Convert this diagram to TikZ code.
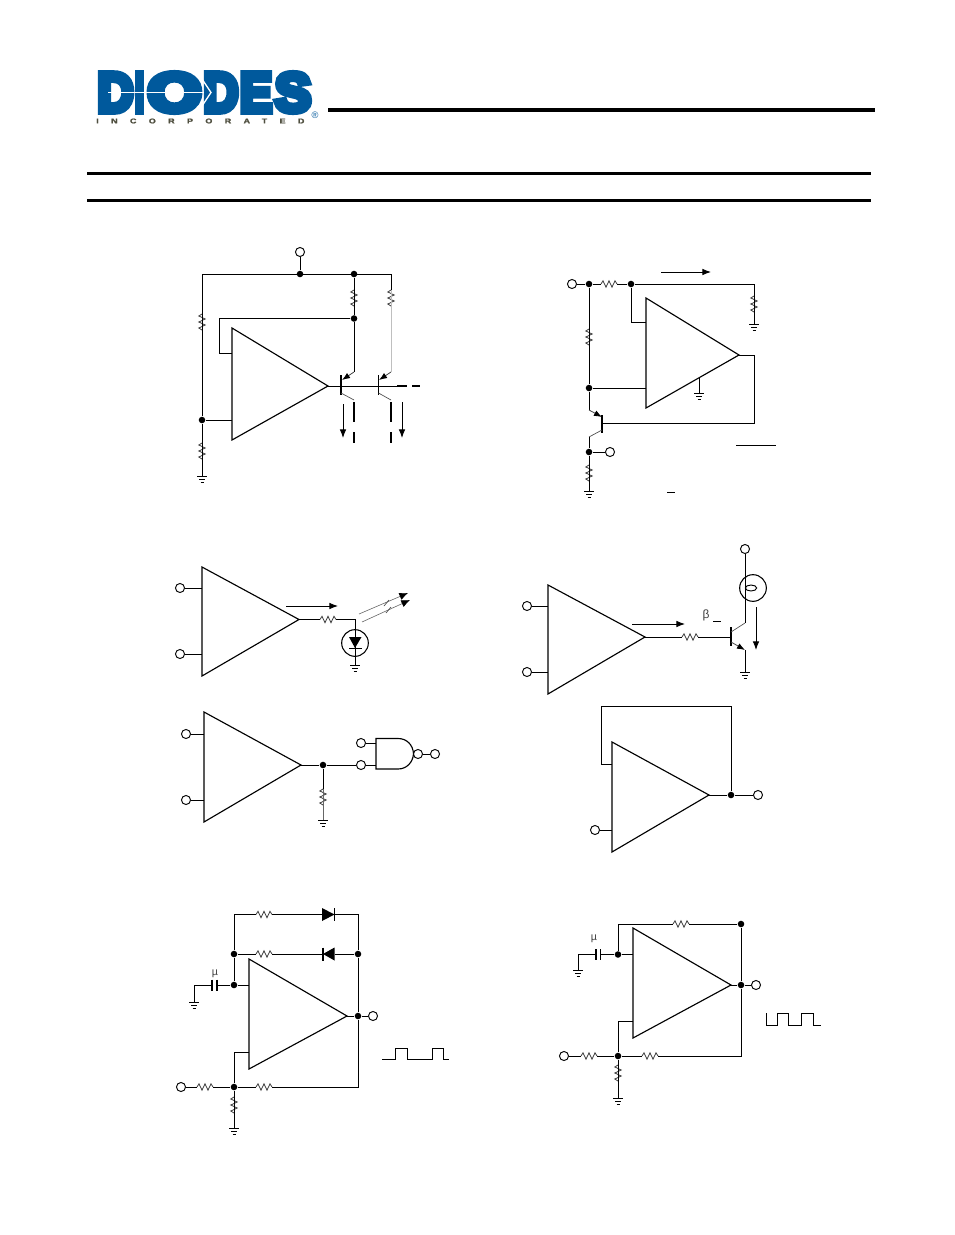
\documentclass[tikz,border=0pt]{standalone}
\usepackage{fontspec}
\setmainfont{Liberation Sans}
\newfontfamily\logofont[BoldFeatures={FakeBold=12}]{Liberation Sans}
\newfontfamily\incfont[BoldFeatures={FakeBold=2},FakeStretch=1.3,LetterSpace=178]{Liberation Sans}
\usetikzlibrary{arrows.meta,calc,shapes.geometric}
\definecolor{diodesblue}{HTML}{00599C}
\definecolor{logogray}{HTML}{4F4F3F}
\tikzset{
  wire/.style={line width=0.75pt,line join=miter},
  dimw/.style={line width=0.6pt,black!75},
  amp/.style={line width=0.85pt,line join=miter},
  dotn/.style={circle,fill=black,inner sep=0pt,minimum size=4.9pt},
  term/.style={circle,draw=black,fill=white,line width=0.7pt,inner sep=0pt,minimum size=6.8pt},
  arr/.style={line width=0.75pt,-{Latex[length=6.5pt,width=5pt]}},
  emit/.style={line width=0.6pt,black!75,-{Latex[length=6pt,width=4.5pt,black]}},
  ray/.style={line width=0.45pt,black!60,-{Latex[length=6.5pt,width=5.5pt,black]}},
  thin/.style={line width=0.5pt,black!70},
  thickdash/.style={line width=1.9pt},
  lab/.style={inner sep=0pt,text=black!75,font=\fontsize{8}{9}\selectfont},
  bar/.style={line width=0.8pt},
  logotext/.style={inner sep=0pt,text=diodesblue},
}
% logo letter: name, centre x, width in pt, letter
\newcommand\LG[4]{\node[logotext] (#1) at (#2,92.5) {\resizebox{#3pt}{28.5pt}{\logofont\bfseries #4}};}
% resistor: name, x, y, rotation
\newcommand\RX[4]{\begin{scope}[shift={(#2,#3)},rotate=#4]
  \coordinate (#1-a) at (-8,0); \coordinate (#1-b) at (8,0);
  \draw[dimw] (-8,0)--(-6,-3.2)--(-3,3.2)--(0,-3.2)--(3,3.2)--(6,-3.2)--(8,0);
\end{scope}}
% ground: name, x, y
\newcommand\GX[3]{\coordinate (#1) at (#2,#3);
  \draw[line width=0.6pt] (#2-5,#3)--(#2+5,#3) (#2-3,#3+3)--(#2+3,#3+3);
  \draw[line width=0.5pt] (#2-1.5,#3+6)--(#2+1.5,#3+6);}
% amplifier: name, xleft, ytop, ybottom, xtip, ytip
\newcommand\AX[6]{\coordinate (#1-t) at (#2,#3); \coordinate (#1-b) at (#2,#4);
  \coordinate (#1-o) at (#5,#6);
  \draw[amp] (#1-t)--(#1-o)--(#1-b)--cycle;}
\begin{document}
\begin{tikzpicture}[x=0.75pt,y=-0.75pt]
\useasboundingbox (0,0) rectangle (954,1235);
\fill[white] (0,0) rectangle (954,1235);
% ---------- header ----------
\LG{lgd}{115.5}{27}{D}
\LG{lgi}{139.5}{7}{I}
\LG{lgo}{174.5}{40}{O}
\LG{lge}{256}{24}{E}
\LG{lgs}{293}{27}{S}
\LG{lgdd}{221}{26}{D}
\coordinate (sl1) at (108,92.5); \coordinate (sl2) at (204,92.5);
\draw[white,line width=0.9pt] (sl1)--(sl2);
\coordinate (ch1) at (202,79); \coordinate (ch2) at (211,92.5); \coordinate (ch3) at (202,106);
\draw[white,line width=1pt] (ch1)--(ch2)--(ch3);
\node[inner sep=0pt,anchor=west,text=logogray,font=\fontsize{5.2}{5.2}\selectfont] (inc) at (96,121)
  {\incfont\bfseries INCORPORATED};
\node[inner sep=0pt,text=diodesblue,font=\fontsize{7}{7}\selectfont] (reg) at (315,115) {®};
\coordinate (h1) at (328,110); \coordinate (h2) at (875,110);
\draw[line width=3.6pt] (h1)--(h2);
\coordinate (l1a) at (87,173.5); \coordinate (l1b) at (871,173.5);
\coordinate (l2a) at (87,200.5); \coordinate (l2b) at (871,200.5);
\draw[line width=2.1pt] (l1a)--(l1b) (l2a)--(l2b);

% ---------- circuit 1 ----------
\AX{a}{232}{328}{440}{328}{386}
\node[term] (avcc) at (300,252) {};
\node[dotn] (at1) at (300,274) {};
\node[dotn] (at2) at (354,274) {};
\coordinate (atl) at (202,274); \coordinate (atr) at (391,274);
\RX{ar1}{202}{322}{90}
\RX{ar2}{202}{451}{90}
\RX{ar3}{354}{298}{90}
\RX{ar4}{391}{298}{90}
\node[dotn] (ad1) at (202,420) {};
\node[dotn] (ad2) at (354,318.5) {};
\GX{ag}{202}{476}
\draw[wire] (avcc)--(at1) (atl)--(atr) (atl)--(ar1-a) (ar1-b)--(ad1)--(ar2-a) (ar2-b)--(ag);
\draw[wire] (at2)--(ar3-a) (ar3-b)--(ad2) (atr)--(ar4-a);
\coordinate (ain1) at (232,353); \coordinate (ain2) at (232,420);
\draw[wire] (ad1)--(ain2);
\draw[wire] (ad2)--(219,318.5)--(219,353)--(ain1);
\coordinate (aq1e) at (354,372); \coordinate (aq2e) at (391,372);
\draw[wire] (ad2)--(aq1e);
\draw[wire,black!25] (ar4-b)--(aq2e);
\coordinate (aq1be) at (342,380); \coordinate (aq2be) at (379,380);
\draw[emit] (aq1e)--(aq1be);
\draw[emit] (aq2e)--(aq2be);
\coordinate (abase) at (397,386);
\draw[wire] (a-o)--(abase);
\coordinate (aq1a) at (341,375); \coordinate (aq1b) at (341,395);
\coordinate (aq2a) at (378.5,375); \coordinate (aq2b) at (378.5,395);
\draw[bar] (aq1a)--(aq1b) (aq2a)--(aq2b);
\coordinate (aq1c) at (354,400); \coordinate (aq2c) at (391,400);
\draw[thin] (341,393)--(aq1c) (378.5,393)--(aq2c);
\draw[thickdash] (397,386)--(407,386) (412,386)--(420,386);
\draw[thickdash] (354,402)--(354,422) (354,432)--(354,443);
\draw[thickdash] (391,402)--(391,422) (391,432)--(391,443);
\coordinate (aa1s) at (343,404); \coordinate (aa1e) at (343,438);
\coordinate (aa2s) at (402,402); \coordinate (aa2e) at (402,438);
\draw[arr] (aa1s)--(aa1e);
\draw[arr] (aa2s)--(aa2e);

% ---------- circuit 2 ----------
\AX{b}{646}{298}{408}{739}{355}
\node[term] (bt1) at (572,284) {};
\node[dotn] (bd1) at (589,284) {};
\node[dotn] (bd2) at (631,284) {};
\RX{br1}{609}{284}{0}
\RX{br2}{754}{304}{90}
\RX{br3}{589}{337}{90}
\RX{br4}{589}{473}{90}
\node[dotn] (bd3) at (589,388) {};
\node[dotn] (bd4) at (589,452) {};
\node[term] (bt2) at (610,452) {};
\GX{bg1}{754}{324}
\GX{bg2}{589}{491}
\GX{bg3}{699}{393}
\coordinate (btr) at (754,284);
\coordinate (bin1) at (646,322); \coordinate (bin2) at (646,388);
\draw[wire] (bt1)--(bd1)--(br1-a) (br1-b)--(bd2)--(btr)--(br2-a) (br2-b)--(bg1);
\draw[wire] (bd2)--(631,322)--(bin1);
\draw[wire] (bd1)--(br3-a) (br3-b)--(bd3)--(bin2);
\coordinate (bqe) at (589,410); \coordinate (bqeb) at (602,417);
\draw[wire] (bd3)--(bqe);
\draw[emit] (bqe)--(bqeb);
\coordinate (bqa) at (602,415); \coordinate (bqb) at (602,433);
\draw[bar] (bqa)--(bqb);
\coordinate (bbase) at (602,423.5);
\coordinate (bc) at (589,437);
\draw[thin] (602,430)--(bc);
\draw[wire] (bc)--(bd4)--(br4-a) (br4-b)--(bg2) (bd4)--(bt2);
\draw[wire] (b-o)--(754,355)--(754,423.5)--(bbase);
\coordinate (bedge) at (699,378);
\draw[wire] (bedge)--(bg3);
\coordinate (baa) at (661,272); \coordinate (bab) at (711,272);
\draw[arr] (baa)--(bab);
\coordinate (bo1) at (736,445); \coordinate (bo2) at (776,445);
\draw[wire] (bo1)--(bo2);
\coordinate (bm1) at (667,492); \coordinate (bm2) at (675,492);
\draw[wire] (bm1)--(bm2);

% ---------- circuit 3 ----------
\AX{c}{202}{567}{676}{299}{619.5}
\node[term] (ct1) at (180,588) {};
\node[term] (ct2) at (180,654) {};
\coordinate (cin1) at (202,588); \coordinate (cin2) at (202,654);
\draw[wire] (ct1)--(cin1) (ct2)--(cin2);
\RX{cr}{328}{619.5}{0}
\coordinate (cled) at (355,619.5);
\node[circle,draw,line width=0.8pt,minimum size=20pt,inner sep=0pt] (cc) at (355,643) {};
\GX{cg}{355}{665}
\draw[wire] (c-o)--(cr-a) (cr-b)--(cled)--(cc.north) (cc.south)--(cg);
\draw[wire] (cc.north)--(cc.south);
\fill (349,637) -- (361.5,637) -- (355,648) -- cycle;
\draw[line width=1pt] (349,648.5)--(361.5,648.5);
\coordinate (cas) at (286,606); \coordinate (cae) at (338,606);
\draw[arr] (cas)--(cae);
\coordinate (cr1s) at (359,614); \coordinate (cr1e) at (408,593);
\coordinate (cr2s) at (362,622); \coordinate (cr2e) at (410,600);
\draw[ray] (cr1s)--(cr1e);
\draw[ray] (cr2s)--(cr2e);
\draw[thin] (384,606)--(389,600) (386,613)--(391,607);

% ---------- circuit 4 ----------
\AX{d}{548}{585}{694}{645}{637}
\node[term] (dt1) at (527,606) {};
\node[term] (dt2) at (527,672) {};
\coordinate (din1) at (548,606); \coordinate (din2) at (548,672);
\draw[wire] (dt1)--(din1) (dt2)--(din2);
\RX{dr}{690}{637}{0}
\coordinate (dbase) at (731,637);
\draw[wire] (d-o)--(dr-a) (dr-b)--(dbase);
\coordinate (dqa) at (731,627); \coordinate (dqb) at (731,646);
\draw[bar] (dqa)--(dqb);
\node[term] (dt3) at (745,549) {};
\node[circle,draw,line width=0.8pt,minimum size=20pt,inner sep=0pt] (dlamp) at (753,588) {};
\node[ellipse,draw,line width=0.7pt,minimum width=8.5pt,minimum height=4.5pt,inner sep=0pt] (dfil) at (751,588) {};
\coordinate (dc) at (745,623);
\draw[wire] (dt3)--(dc);
\draw[thin] (731,632)--(dc);
\coordinate (desb) at (731,642); \coordinate (dee) at (745,650);
\draw[emit] (desb)--(dee);
\GX{dg}{745}{672}
\draw[wire] (dee)--(dg);
\coordinate (das) at (632,624); \coordinate (dae) at (685,624);
\draw[arr] (das)--(dae);
\coordinate (das2) at (756,607); \coordinate (dae2) at (756,650);
\draw[arr] (das2)--(dae2);
\node[lab,font=\fontsize{9}{10}\selectfont] (dbeta) at (706,615) {β};
\coordinate (dm1) at (713,621); \coordinate (dm2) at (721,621);
\draw[wire] (dm1)--(dm2);

% ---------- circuit 5 ----------
\AX{e}{204}{712}{822}{301}{765}
\node[term] (et1) at (186,734) {};
\node[term] (et2) at (186,800) {};
\coordinate (ein1) at (204,734); \coordinate (ein2) at (204,800);
\draw[wire] (et1)--(ein1) (et2)--(ein2);
\node[dotn] (ed) at (323,765) {};
\node[term] (et3) at (361,743) {};
\node[term] (et4) at (361,765) {};
\RX{er}{323}{797}{90}
\GX{eg}{323}{820}
\draw[wire] (e-o)--(ed)--(et4) (ed)--(er-a);
\draw[wire,black!60] (er-b)--(eg);
\coordinate (enl1) at (376,743); \coordinate (enl2) at (376,765);
\draw[wire] (et3)--(enl1) (et4)--(enl2);
\draw[amp] (398,738.5)--(376,738.5)--(376,769)--(398,769) .. controls (407,769) and (413,762) .. (413.5,753.75) .. controls (413,745) and (407,738.5) .. (398,738.5) -- cycle;
\node[term] (ebub) at (418,754) {};
\node[term] (et5) at (435,754) {};
\draw[wire] (ebub)--(et5);

% ---------- circuit 6 ----------
\AX{f}{612}{742}{852}{709}{795}
\node[dotn] (fd) at (731,795) {};
\node[term] (ft1) at (758,795) {};
\node[term] (ft2) at (595,830) {};
\coordinate (fin1) at (612,764); \coordinate (fin2) at (612,830);
\draw[wire] (f-o)--(fd)--(ft1) (ft2)--(fin2);
\draw[wire] (fin1)--(601,764)--(601,706.5)--(731,706.5)--(fd);

% ---------- circuit 7 ----------
\AX{g}{249}{959}{1069}{347}{1016}
\node[dotn] (gd1) at (234,954) {};
\node[dotn] (gd2) at (358,954) {};
\node[dotn] (gd3) at (234,985) {};
\node[dotn] (gd4) at (358,1016) {};
\node[dotn] (gd5) at (234,1087) {};
\node[term] (gt1) at (373,1016) {};
\node[term] (gt2) at (181,1087) {};
\RX{gr1}{264}{914.5}{0}
\RX{gr2}{264}{954}{0}
\RX{gr3}{205}{1087}{0}
\RX{gr4}{264}{1087}{0}
\RX{gr5}{234}{1105}{90}
\GX{gg1}{194}{1002}
\GX{gg2}{234}{1128}
\coordinate (gdi1a) at (322,914.5); \coordinate (gdi1k) at (334.5,914.5);
\coordinate (gdi2a) at (334.5,954); \coordinate (gdi2k) at (323,954);
\fill (322,908) -- (322,921) -- (334.5,914.5) -- cycle;
\draw[bar] (334.5,908)--(334.5,921);
\fill (334.5,947.5) -- (334.5,960.5) -- (323,954) -- cycle;
\draw[bar] (323,947.5)--(323,960.5);
\coordinate (gtl) at (234,914.5); \coordinate (gtr) at (358,914.5);
\coordinate (gbr) at (358,1087);
\draw[wire] (gd1)--(gtl)--(gr1-a) (gr1-b)--(gdi1a) (gdi1k)--(gtr)--(gd2)--(gd4)--(gbr)--(gr4-b);
\draw[wire] (gd2)--(gdi2a) (gdi2k)--(gr2-b) (gr2-a)--(gd1)--(gd3);
\coordinate (gin1) at (249,985); \coordinate (gin2) at (249,1052);
\draw[wire] (gd3)--(gin1) (g-o)--(gd4)--(gt1);
\draw[wire] (gin2)--(234,1052)--(gd5);
\draw[wire] (gt2)--(gr3-a) (gr3-b)--(gd5)--(gr4-a) (gd5)--(gr5-a) (gr5-b)--(gg2);
\coordinate (gc1) at (212,985); \coordinate (gc2) at (217,985);
\draw[bar] (212,979.5)--(212,990.5) (217,979.5)--(217,990.5);
\draw[wire] (gd3)--(gc2) (gc1)--(194,985)--(gg1);
\node[lab] (gmu) at (215,973.5) {µ};
\coordinate (gw) at (382,1059);
\draw[wire] (gw)--(395,1059)--(395,1048)--(407,1048)--(407,1059)--(432,1059)--(432,1048)--(443,1048)--(443,1059)--(449,1059);

% ---------- circuit 8 ----------
\AX{h}{633}{928}{1038}{731}{985}
\node[dotn] (hd1) at (618,954.5) {};
\node[dotn] (hd2) at (741,924) {};
\node[dotn] (hd3) at (741,985) {};
\node[dotn] (hd4) at (618,1056) {};
\node[term] (ht1) at (756,985) {};
\node[term] (ht2) at (564,1056) {};
\RX{hr1}{681}{924}{0}
\RX{hr2}{589}{1056}{0}
\RX{hr3}{650}{1056}{0}
\RX{hr4}{618}{1073}{90}
\GX{hg1}{578}{970}
\GX{hg2}{618}{1098}
\coordinate (htl) at (618,924); \coordinate (hbr) at (741,1056);
\draw[wire] (hd1)--(htl)--(hr1-a) (hr1-b)--(hd2)--(hd3)--(hbr)--(hr3-b);
\coordinate (hin1) at (633,954.5); \coordinate (hin2) at (633,1021);
\draw[wire] (hd1)--(hin1) (h-o)--(hd3)--(ht1);
\draw[wire] (hin2)--(618,1021)--(hd4);
\draw[wire] (ht2)--(hr2-a) (hr2-b)--(hd4)--(hr3-a) (hd4)--(hr4-a) (hr4-b)--(hg2);
\coordinate (hc1) at (596,954.5); \coordinate (hc2) at (600.5,954.5);
\draw[bar] (596,949)--(596,960) (600.5,949)--(600.5,960);
\draw[wire] (hd1)--(hc2) (hc1)--(578,954.5)--(hg1);
\node[lab] (hmu) at (594,939) {µ};
\coordinate (hw) at (766,1013);
\draw[wire] (hw)--(766,1025)--(777,1025)--(777,1013)--(788,1013)--(788,1025)--(801,1025)--(801,1013)--(813,1013)--(813,1025)--(821,1025);
\end{tikzpicture}
\end{document}
